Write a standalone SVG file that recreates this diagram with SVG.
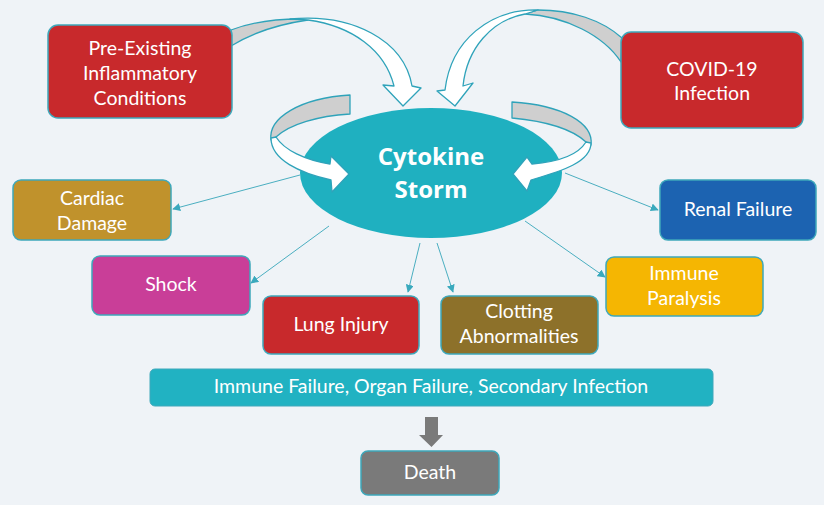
<svg xmlns="http://www.w3.org/2000/svg" width="824" height="505" viewBox="0 0 824 505">
<defs>
<marker id="ah" viewBox="0 0 10 10" refX="9" refY="5" markerWidth="8" markerHeight="8" markerUnits="userSpaceOnUse" orient="auto"><path d="M0,0 L10,5 L0,10 Z" fill="#3aa9bd"/></marker>
<style>
.box{stroke:#3ea8bb;stroke-width:1.5}
.t{font-family:Lato,"Open Sans","DejaVu Sans",sans-serif;font-size:19.5px;fill:#ffffff;text-anchor:middle}
.cs{font-family:"Open Sans",Lato,"DejaVu Sans",sans-serif;font-size:24px;font-weight:bold;fill:#ffffff;text-anchor:middle}
.con{stroke:#4aaec0;stroke-width:1;fill:none;marker-end:url(#ah)}
.rib{fill:#cfcfcf;stroke:#2fa3ba;stroke-width:1.3;stroke-linejoin:round}
.wa{fill:#ffffff;stroke:#2fa3ba;stroke-width:1.3;stroke-linejoin:round}
</style>
</defs>
<rect width="824" height="505" fill="#eff3f7"/>

<g id="connectors">
<line class="con" x1="300" y1="175" x2="173" y2="209"/>
<line class="con" x1="329" y1="226" x2="251" y2="283"/>
<line class="con" x1="420" y1="243" x2="408" y2="292"/>
<line class="con" x1="437" y1="243" x2="453" y2="292"/>
<line class="con" x1="525" y1="221" x2="605" y2="277"/>
<line class="con" x1="565" y1="173" x2="658" y2="210"/>
<path d="M425,417 H438 V435 H443 L431.5,447 L419,435 H425 Z" fill="#7a7a7a"/>
</g>

<g id="cytokine-storm">
<ellipse cx="431" cy="173" rx="131" ry="65" fill="#1fb0c0"/>
<text class="cs" x="431" y="165">Cytokine</text>
<text class="cs" x="431" y="198">Storm</text>
</g>

<g id="curved-arrows">
<path class="rib" d="M231,30 C252,22 278,19 300,19 L308,20 C280,24 252,33 231,46 Z"/>
<path class="wa" d="M290,19 C352,13 404,40 412,86 L421,88 L403,106 L383,85 L394,86 C385,50 352,26 308,20 Z"/>
<path class="rib" d="M622,38 C602,20 572,10 538,10 L525,14 C566,16 604,36 621,62 Z"/>
<path class="wa" d="M538,10 C490,9 451,40 445,90 L437,91 L455,106 L473,83 L463,86 C467,48 492,20 525,14 Z"/>
<path class="rib" d="M350,95 L350,114 C318,116 290,124 276,137 L271,140 C268,118 300,98 350,95 Z"/>
<path class="wa" d="M271,138 C271,160 300,173 331,180 L332,192 L349,174 L331,156 L330,164 C305,160 284,150 276,137 Z"/>
<g transform="translate(862,5) scale(-1,1)">
<path class="rib" d="M350,97 L350,113 C318,116 290,124 276,137 L271,140 C268,118 300,100 350,97 Z"/>
<path class="wa" d="M271,138 C271,157 300,166 331,175 L335,186 L349,169 L335,152 L330,159 C305,157 284,150 276,137 Z"/>
</g>
</g>

<g id="pre-existing">
<rect class="box" x="48" y="25" width="184" height="93" rx="10" fill="#c8292c"/>
<text class="t" x="140" y="55">Pre-Existing</text>
<text class="t" x="140" y="80">Inflammatory</text>
<text class="t" x="140" y="105">Conditions</text>
</g>

<g id="covid">
<rect class="box" x="621" y="32" width="182" height="96" rx="10" fill="#c8292c"/>
<text class="t" x="712" y="76">COVID-19</text>
<text class="t" x="712" y="100">Infection</text>
</g>

<g id="cardiac">
<rect class="box" x="13" y="180" width="158" height="60" rx="8" fill="#c0922c"/>
<text class="t" x="92" y="205">Cardiac</text>
<text class="t" x="92" y="230">Damage</text>
</g>

<g id="shock">
<rect class="box" x="92" y="256" width="158" height="59" rx="8" fill="#c93e98"/>
<text class="t" x="171" y="291">Shock</text>
</g>

<g id="lung">
<rect class="box" x="263" y="296" width="156" height="58" rx="8" fill="#c8292c"/>
<text class="t" x="341" y="331">Lung Injury</text>
</g>

<g id="clotting">
<rect class="box" x="441" y="296" width="157" height="58" rx="8" fill="#8d712a"/>
<text class="t" x="519" y="318">Clotting</text>
<text class="t" x="519" y="343">Abnormalities</text>
</g>

<g id="immune-paralysis">
<rect class="box" x="606" y="257" width="157" height="59" rx="8" fill="#f5b602"/>
<text class="t" x="684" y="280">Immune</text>
<text class="t" x="684" y="305">Paralysis</text>
</g>

<g id="renal">
<rect class="box" x="660" y="180" width="156" height="60" rx="8" fill="#1c63b1"/>
<text class="t" x="738" y="216">Renal Failure</text>
</g>

<g id="failure-bar">
<rect x="150" y="369" width="563" height="37" rx="5" fill="#21b2c2" stroke="#3ea8bb" stroke-width="1"/>
<text class="t" x="431" y="393">Immune Failure, Organ Failure, Secondary Infection</text>
</g>

<g id="death">
<rect class="box" x="361" y="451" width="138" height="44" rx="7" fill="#7a7a7a"/>
<text class="t" x="430" y="479">Death</text>
</g>
</svg>
